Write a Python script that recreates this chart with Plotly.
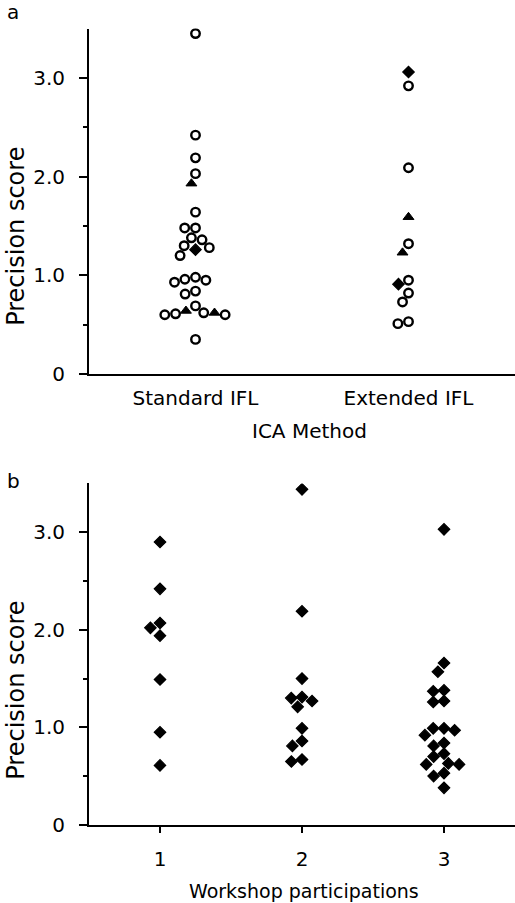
import math
import plotly.graph_objects as go

# ---------------- data ----------------
methods = ["Standard IFL", "Extended IFL"]
std_open = [3.45, 2.42, 2.19, 2.03, 1.64, 1.48, 1.48, 1.38, 1.36, 1.30, 1.28, 1.20,
            0.98, 0.96, 0.95, 0.93, 0.84, 0.81, 0.69, 0.62, 0.61, 0.60, 0.60, 0.35]
std_filled = [1.26]
std_tri = [1.93, 0.62, 0.64]
ext_open = [2.92, 2.09, 1.32, 0.95, 0.82, 0.73, 0.53, 0.51]
ext_filled = [3.06, 0.91]
ext_tri = [1.59, 1.23]

workshops = ["1", "2", "3"]
ws1 = [2.90, 2.42, 2.07, 2.02, 1.94, 1.49, 0.95, 0.61]
ws2 = [3.44, 2.19, 1.50, 1.31, 1.30, 1.27, 1.21, 0.99, 0.86, 0.81, 0.67, 0.65]
ws3 = [3.03, 1.66, 1.57, 1.38, 1.37, 1.27, 1.26, 0.99, 0.99, 0.97, 0.92, 0.84, 0.81,
       0.73, 0.70, 0.63, 0.62, 0.62, 0.53, 0.50, 0.38]

y_ticks = [0, 1, 2, 3]
y_ticktext = ["0", "1.0", "2.0", "3.0"]

FONT = "DejaVu Sans"
W, H = 515, 903
L = 89
A_TOP, A_BOT = 29, 379
B_TOP, B_BOT = 490, 836


def swarm(values, ppu_y, d=10.8):
    """Deterministic beeswarm: returns x offsets in pixels."""
    placed = []
    out = []
    for v in values:
        y = v * ppu_y
        cands = [0.0]
        for (px, py) in placed:
            dy = abs(py - y)
            if dy < d:
                dx = math.sqrt(d * d - dy * dy)
                cands += [px + dx, px - dx]
        cands.sort(key=lambda c: (abs(c), c))
        c = 0.0
        for c in cands:
            ok = True
            for (px, py) in placed:
                if (px - c) ** 2 + (py - y) ** 2 < d * d - 0.01:
                    ok = False
                    break
            if ok:
                break
        placed.append((c, y))
        out.append(c)
    return out


def group_xy(center, groups, ppu_x, ppu_y):
    allv = []
    for gi, vals in enumerate(groups):
        for v in vals:
            allv.append((v, gi))
    allv.sort(key=lambda t: -t[0])
    offs = swarm([t[0] for t in allv], ppu_y)
    res = [([], []) for _ in groups]
    for (v, gi), o in zip(allv, offs):
        res[gi][0].append(center + o / ppu_x)
        res[gi][1].append(v)
    return res


ppu_a_x = (W - L) / 2.0
ppu_a_y = (A_BOT - A_TOP) / 3.5
ppu_b_x = (W - L) / 3.0
ppu_b_y = (B_BOT - B_TOP) / 3.5

open_style = dict(symbol="circle-open", size=8.5, color="black", line=dict(width=2.4, color="black"))
fill_style = dict(symbol="diamond", size=8.8, color="black", line=dict(width=1.2, color="black"))
tri_style = dict(symbol="triangle-up", size=9.5, color="black", line=dict(width=1, color="black"))

fig = go.Figure()

for ci, groups in enumerate([(std_open, std_filled, std_tri), (ext_open, ext_filled, ext_tri)]):
    res = group_xy(ci + 1, groups, ppu_a_x, ppu_a_y)
    for (xs, ys), st in zip(res, [open_style, fill_style, tri_style]):
        fig.add_trace(go.Scatter(x=xs, y=ys, mode="markers", marker=st,
                                 xaxis="x", yaxis="y", showlegend=False, hoverinfo="y"))

for ci, vals in enumerate([ws1, ws2, ws3]):
    res = group_xy(ci + 1, [vals], ppu_b_x, ppu_b_y)
    xs, ys = res[0]
    fig.add_trace(go.Scatter(x=xs, y=ys, mode="markers", marker=fill_style,
                             xaxis="x2", yaxis="y2", showlegend=False, hoverinfo="y"))

axis_common = dict(showline=True, linewidth=2, linecolor="black", showgrid=False,
                   zeroline=False, tickfont=dict(family=FONT, size=20, color="black"))

yaxis_common = dict(axis_common, range=[0, 3.5], tickvals=y_ticks, ticktext=y_ticktext,
                    ticks="outside", ticklen=8, tickwidth=2, tickcolor="black",
                    ticklabelstandoff=10,
                    minor=dict(tickvals=[0.5, 1.5, 2.5], ticks="outside", ticklen=4,
                               tickwidth=1.5, tickcolor="black"))

fig.update_layout(
    width=W, height=H,
    margin=dict(l=0, r=0, t=0, b=0),
    paper_bgcolor="white", plot_bgcolor="white",
    font=dict(family=FONT, size=20, color="black"),
    xaxis=dict(axis_common, domain=[L / W, 1], range=[0.5, 2.5],
               tickvals=[1, 2], ticktext=methods, ticks="", ticklabelstandoff=5, anchor="y"),
    yaxis=dict(yaxis_common, domain=[1 - A_BOT / H, 1 - A_TOP / H], anchor="x"),
    xaxis2=dict(axis_common, domain=[L / W, 1], range=[0.5, 3.5],
                tickvals=[1, 2, 3], ticktext=workshops, ticks="outside",
                ticklen=6, tickwidth=2, tickcolor="black", ticklabelstandoff=9, anchor="y2"),
    yaxis2=dict(yaxis_common, domain=[1 - B_BOT / H, 1 - B_TOP / H], anchor="x2"),
)

ann = [
    dict(text="a", x=13 / W, y=1 - 12 / H, size=20),
    dict(text="b", x=13 / W, y=1 - 487 / H, size=20),
    dict(text="ICA Method", x=309 / W, y=1 - 437 / H, size=20),
    dict(text="Workshop participations", x=304 / W, y=1 - 903 / H, size=19),
    dict(text="Precision score", x=16 / W, y=1 - 240 / H, size=24, textangle=-90),
    dict(text="Precision score", x=16 / W, y=1 - 700 / H, size=24, textangle=-90),
]
for a in ann:
    sz = a.pop("size")
    fig.add_annotation(xref="paper", yref="paper", showarrow=False,
                       xanchor="center", yanchor="middle",
                       font=dict(family=FONT, size=sz, color="black"), **a)

fig.write_html("out.html")
